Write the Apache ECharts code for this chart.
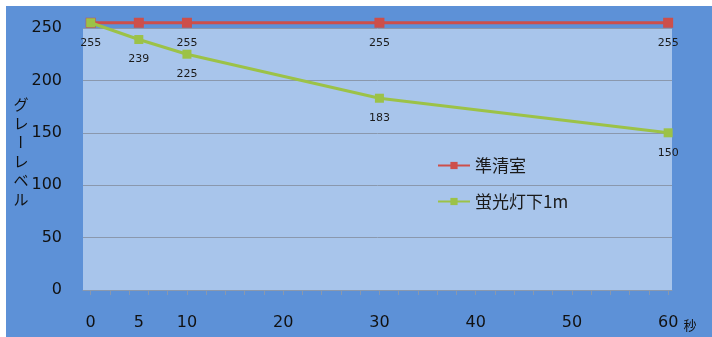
<!DOCTYPE html>
<html>
<head>
<meta charset="utf-8">
<script src="https://cdn.jsdelivr.net/npm/echarts@6/dist/echarts.min.js"></script>
<style>
  html, body { margin: 0; padding: 0; background: #ffffff; }
  #chart { position: absolute; left: 6px; top: 6px; width: 706px; height: 331px; }
</style>
</head>
<body>
<div id="chart"></div>
<script>
// Elapsed time and measured grey level for each lighting condition
const times = [0, 5, 10, 30, 60];
const cleanRoom = [255, 255, 255, 255, 255];
const fluorescent = [255, 239, 225, 183, 150];
const seriesNames = ['準清室', '蛍光灯下1m'];
const xTickLabels = [0, 5, 10, 20, 30, 40, 50, 60];
const xMinorTicks = [0, 2, 4, 6, 8, 10, 12, 14, 16, 18, 20, 22, 24, 26, 28, 30,
  32, 34, 36, 38, 40, 42, 44, 46, 48, 50, 52, 54, 56, 58, 60];
const yAxisTitle = ['グ', 'レ', 'ー', 'レ', 'ベ', 'ル'];
const xAxisTitle = '秒';

const labelFont = { fontFamily: 'DejaVu Sans', fontSize: 11, color: '#1a1a1a' };

function pairs(values, hideIdx) {
  return times.map((t, i) => ({
    value: [t, values[i]],
    label: { show: hideIdx.indexOf(i) < 0 }
  }));
}

// Vertical axis title: one glyph per row, the long vowel mark turned upright
const titleGraphics = yAxisTitle.map((ch, i) => ({
  type: 'text',
  x: 15,
  y: 98 + i * 19,
  rotation: ch === 'ー' ? -Math.PI / 2 : 0,
  style: {
    text: ch,
    font: '15px "Noto Sans CJK JP"',
    fill: '#111',
    align: 'center',
    verticalAlign: 'middle'
  }
}));

const chart = echarts.init(document.getElementById('chart'));
chart.setOption({
  animation: false,
  backgroundColor: '#5d91d7',
  grid: {
    left: 77, top: 22, width: 589, height: 262,
    show: true, backgroundColor: '#a8c5eb', borderWidth: 0
  },
  legend: {
    orient: 'vertical',
    left: 426, top: 146,
    itemWidth: 32, itemHeight: 9, itemGap: 19,
    textStyle: { fontFamily: '"Noto Sans CJK JP"', fontSize: 17, color: '#1a1a1a' },
    data: seriesNames
  },
  xAxis: {
    type: 'value',
    min: -0.8, max: 60.4,
    axisLine: { show: true, lineStyle: { color: '#8a98ad', width: 1 } },
    axisTick: { show: true, length: 5, customValues: xMinorTicks, lineStyle: { color: '#8a98ad' } },
    axisLabel: {
      customValues: xTickLabels, margin: 25,
      fontFamily: 'DejaVu Sans', fontSize: 16, color: '#111'
    },
    splitLine: { show: false }
  },
  yAxis: {
    type: 'value',
    min: 0, max: 250, interval: 50,
    axisLine: { show: false },
    axisTick: { show: false },
    axisLabel: { margin: 21, fontFamily: 'DejaVu Sans', fontSize: 16, color: '#111' },
    splitLine: { show: true, lineStyle: { color: '#8a98ad', width: 1 } }
  },
  graphic: titleGraphics.concat([{
    type: 'text', x: 684, y: 319,
    style: {
      text: xAxisTitle, font: '13px "Noto Sans CJK JP"', fill: '#111',
      align: 'center', verticalAlign: 'middle'
    }
  }]),
  series: [
    {
      name: seriesNames[0],
      type: 'line',
      clip: false,
      data: pairs(cleanRoom, [1]),
      symbol: 'rect', symbolSize: 10,
      lineStyle: { color: '#cd4f4a', width: 3 },
      itemStyle: { color: '#cd4f4a' },
      label: Object.assign({ show: true, position: 'bottom', distance: 10 }, labelFont),
      z: 2
    },
    {
      name: seriesNames[1],
      type: 'line',
      clip: false,
      data: pairs(fluorescent, [0]),
      symbol: 'rect', symbolSize: 9,
      lineStyle: { color: '#9cc247', width: 3 },
      itemStyle: { color: '#9cc247' },
      label: Object.assign({ show: true, position: 'bottom', distance: 10 }, labelFont),
      z: 3
    }
  ]
});
</script>
</body>
</html>
